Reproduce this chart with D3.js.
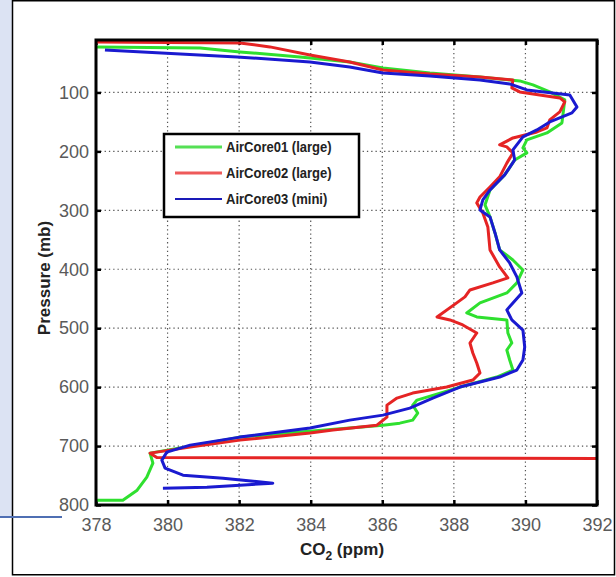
<html>
<head>
<script src="https://d3js.org/d3.v7.min.js"></script>
<style>
body { margin: 0; background: white; }
text { font-family: "Liberation Sans", Arial, sans-serif; }
</style>
</head>
<body>
<script>
//DATA - each point is [CO2 (ppm), pressure (mb)]
var airCore01 = [
	[378.03, 22.7], [380.91, 24.4], [382.02, 31.2], [383.70, 39.7], [385.09, 48.2],
	[386.02, 58.4], [387.33, 66.9], [388.73, 73.6], [389.84, 80.4], [390.21, 87.2],
	[390.68, 99.1], [391.10, 112.7], [391.02, 151.7], [390.60, 168.7], [390.04, 180.6],
	[389.93, 194.1], [390.04, 202.6], [389.70, 214.5], [389.42, 239.9], [389.01, 265.4],
	[388.87, 290.8], [389.01, 311.2], [389.15, 338.4], [389.28, 367.2], [389.65, 384.2],
	[389.93, 401.2], [389.76, 423.2], [389.48, 440.2], [388.73, 457.1], [388.36, 474.1],
	[388.64, 480.9], [389.48, 486.0], [389.51, 508.2], [389.62, 525.1], [389.48, 537.0],
	[389.56, 554.0], [389.65, 571.0], [389.20, 582.9], [388.17, 599.9], [386.97, 622.0],
	[386.85, 630.5], [386.99, 644.0], [386.85, 656.0], [386.49, 661.1], [386.02, 664.5],
	[385.09, 669.5], [383.70, 676.3], [382.02, 684.8], [380.63, 700.1], [379.51, 712.0],
	[379.59, 729.0], [379.42, 752.8], [379.15, 774.9], [378.75, 791.9], [378.03, 791.9]
];
var airCore02 = [
	[378.03, 14.3], [382.02, 16.0], [382.86, 22.7], [383.98, 36.3], [385.09, 48.2],
	[386.02, 61.8], [387.33, 68.6], [388.73, 73.6], [389.65, 78.7], [389.62, 92.3],
	[389.84, 99.1], [390.96, 109.3], [391.10, 116.1], [390.96, 133.0], [390.68, 146.6],
	[390.60, 160.2], [390.32, 167.0], [389.65, 177.2], [389.28, 189.0], [389.48, 192.4],
	[389.65, 202.6], [389.48, 219.9], [389.28, 243.3], [389.01, 260.3], [388.73, 277.3],
	[388.64, 287.4], [388.81, 304.4], [388.95, 328.2], [389.01, 367.2], [389.28, 396.1],
	[389.51, 414.7], [389.09, 423.2], [388.45, 435.1], [388.31, 446.9], [388.08, 457.1],
	[387.53, 480.9], [387.89, 486.0], [388.25, 494.5], [388.64, 508.2], [388.45, 525.1],
	[388.53, 542.1], [388.64, 559.1], [388.73, 576.1], [388.53, 588.0], [387.80, 599.9],
	[386.85, 610.1], [386.41, 618.6], [386.13, 630.5], [386.13, 650.9], [385.85, 664.5],
	[384.62, 672.9], [383.98, 678.0], [382.02, 689.9], [380.63, 701.8], [379.51, 712.0],
	[379.70, 719.5], [392.00, 721.0]
];
var airCore03 = [
	[378.25, 27.8], [381.94, 39.7], [383.98, 48.2], [385.09, 56.7], [386.02, 66.9],
	[387.33, 72.0], [388.73, 78.7], [389.56, 85.5], [390.04, 95.7], [391.24, 104.2],
	[391.44, 124.6], [391.30, 134.7], [390.68, 150.0], [390.32, 163.6], [389.93, 175.5],
	[389.65, 197.5], [389.70, 214.5], [389.42, 239.9], [389.01, 265.4], [388.81, 282.4],
	[388.73, 299.3], [389.01, 311.2], [389.15, 338.4], [389.28, 367.2], [389.56, 389.3],
	[389.76, 413.0], [389.90, 440.2], [389.48, 469.0], [389.62, 486.0], [389.93, 503.1],
	[389.98, 531.9], [389.93, 554.0], [389.76, 571.0], [389.28, 582.9], [388.73, 591.4],
	[388.17, 599.9], [387.41, 618.6], [386.77, 635.6], [386.02, 647.5], [385.09, 656.0],
	[383.98, 669.5], [382.02, 684.8], [380.63, 698.4], [379.98, 710.3], [379.84, 723.9],
	[379.93, 737.5], [380.43, 749.4], [381.55, 754.5], [382.94, 763.0], [382.02, 766.4],
	[381.10, 769.8], [379.87, 771.5]
];

var seriesNames = ["AirCore01 (large)", "AirCore02 (large)", "AirCore03 (mini)"];
var xTicks = [378, 380, 382, 384, 386, 388, 390, 392];
var yTicks = [100, 200, 300, 400, 500, 600, 700, 800];
//////////////////////

var colors = ["#2fe02f", "#e52424", "#1a1ad0"];
var legendColors = ["#55e055", "#ee5a5a", "#1a1ab8"];
var allSeries = [airCore01, airCore02, airCore03];

var canvas = d3.select("body")
	.append("svg")
	.attr("width", 616)
	.attr("height", 577);

//SLIDE BACKGROUND + WHITE PANEL
canvas.append("rect")
	.attr("x", 0).attr("y", 0)
	.attr("width", 14).attr("height", 517)
	.attr("fill", "#dce3f3");

canvas.append("rect")
	.attr("x", 12.5).attr("y", 0.75)
	.attr("width", 602).attr("height", 574)
	.attr("fill", "white")
	.attr("stroke", "black")
	.attr("stroke-width", 1.5);

canvas.append("line")
	.attr("x1", 0).attr("x2", 62)
	.attr("y1", 517).attr("y2", 517)
	.attr("stroke", "#4f6fb3")
	.attr("stroke-width", 2);

//PLOT AREA (names avoid window.top)
var pLeft = 96, pRight = 597, pTop = 40, pBottom = 505;

var x = d3.scaleLinear().domain([378, 392]).range([pLeft, pRight]);
var y = d3.scaleLinear().domain([11, 800]).range([pTop, pBottom]);

//dotted grid
canvas.selectAll(".gridX")
	.data(xTicks.slice(1, -1))
	.enter().append("line")
	.attr("x1", function(d) { return x(d) })
	.attr("x2", function(d) { return x(d) })
	.attr("y1", pTop).attr("y2", pBottom)
	.attr("stroke", "#555")
	.attr("stroke-dasharray", "1.3,3")
	.attr("stroke-width", 1.2);

canvas.selectAll(".gridY")
	.data(yTicks.slice(0, -1))
	.enter().append("line")
	.attr("x1", pLeft).attr("x2", pRight)
	.attr("y1", function(d) { return y(d) })
	.attr("y2", function(d) { return y(d) })
	.attr("stroke", "#555")
	.attr("stroke-dasharray", "1.3,3")
	.attr("stroke-width", 1.2);

//axes with inward ticks (matlab style)
canvas.append("g")
	.attr("transform", "translate(0," + pBottom + ")")
	.call(d3.axisBottom(x).tickValues(xTicks).tickFormat(d3.format("d")).tickSizeInner(-5).tickSizeOuter(0).tickPadding(13));

canvas.append("g")
	.attr("transform", "translate(0," + pTop + ")")
	.call(d3.axisTop(x).tickValues(xTicks).tickFormat("").tickSizeInner(-5).tickSizeOuter(0));

canvas.append("g")
	.attr("transform", "translate(" + pLeft + ",0)")
	.call(d3.axisLeft(y).tickValues(yTicks).tickFormat(d3.format("d")).tickSizeInner(-5).tickSizeOuter(0).tickPadding(7));

canvas.append("g")
	.attr("transform", "translate(" + pRight + ",0)")
	.call(d3.axisRight(y).tickValues(yTicks).tickFormat("").tickSizeInner(-5).tickSizeOuter(0));

canvas.selectAll(".tick line").attr("stroke", "black").attr("stroke-width", 2.5);
canvas.selectAll(".domain").remove();
canvas.selectAll(".tick text")
	.attr("fill", "#5a5a5a")
	.style("font-size", "18px");

//CURVES
canvas.append("clipPath").attr("id", "plotClip")
	.append("rect")
	.attr("x", pLeft).attr("y", pTop)
	.attr("width", pRight - pLeft).attr("height", pBottom - pTop);

var line = d3.line()
	.x(function(d) { return x(d[0]) })
	.y(function(d) { return y(d[1]) });

canvas.append("g")
	.attr("clip-path", "url(#plotClip)")
	.selectAll("path")
	.data(allSeries)
	.enter().append("path")
	.attr("d", line)
	.attr("fill", "none")
	.attr("stroke", function(d, i) { return colors[i] })
	.attr("stroke-width", 3)
	.attr("stroke-linejoin", "round");

//frame
canvas.append("rect")
	.attr("x", pLeft).attr("y", pTop)
	.attr("width", pRight - pLeft).attr("height", pBottom - pTop)
	.attr("fill", "none")
	.attr("stroke", "black")
	.attr("stroke-width", 3);

//AXIS TITLES
canvas.append("text")
	.attr("transform", "translate(50,278) rotate(-90)")
	.attr("text-anchor", "middle")
	.attr("font-weight", "bold")
	.attr("font-size", 17)
	.attr("fill", "#222")
	.text("Pressure (mb)");

var xTitle = canvas.append("text")
	.attr("x", 342).attr("y", 555)
	.attr("text-anchor", "middle")
	.attr("font-weight", "bold")
	.attr("font-size", 17)
	.attr("fill", "#222");
xTitle.append("tspan").text("CO");
xTitle.append("tspan").attr("font-size", 12).attr("dy", 5).text("2");
xTitle.append("tspan").attr("dy", -5).text(" (ppm)");

//LEGEND
var legend = canvas.append("g");
legend.append("rect")
	.attr("x", 164).attr("y", 134)
	.attr("width", 195).attr("height", 83)
	.attr("fill", "white")
	.attr("stroke", "black")
	.attr("stroke-width", 2.5);

var entries = legend.selectAll(".entry")
	.data(seriesNames)
	.enter().append("g")
	.attr("transform", function(d, i) { return "translate(0," + (147 + i * 26) + ")" });

entries.append("line")
	.attr("x1", 175).attr("x2", 222)
	.attr("y1", 0).attr("y2", 0)
	.attr("stroke", function(d, i) { return legendColors[i] })
	.attr("stroke-width", function(d, i) { return i == 2 ? 2 : 3 });

//condensed bold text like the original legend
entries.append("text")
	.attr("x", 226).attr("y", 5)
	.attr("font-weight", "bold")
	.attr("font-size", 14)
	.attr("fill", "#222")
	.text(function(d) { return d })
	.each(function() {
		var w = this.getComputedTextLength();
		d3.select(this).attr("textLength", w * 0.93).attr("lengthAdjust", "spacingAndGlyphs");
	});

</script>
</body>
</html>
